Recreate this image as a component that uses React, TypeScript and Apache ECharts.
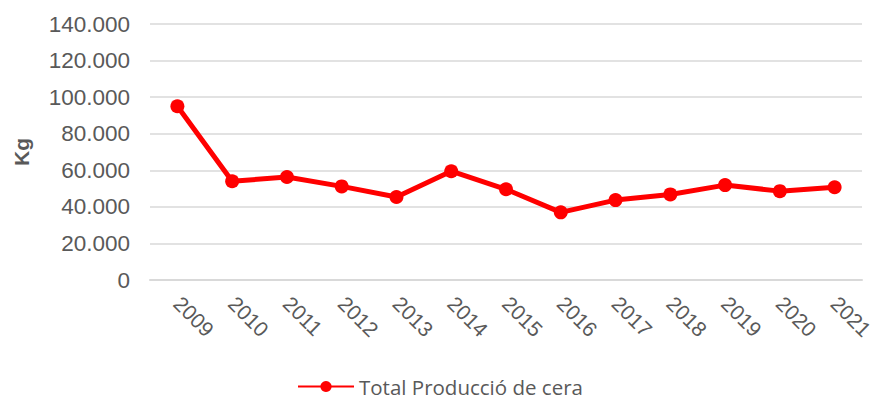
import React, { useEffect, useRef } from "react";
import * as echarts from "echarts";

const years = ["2009", "2010", "2011", "2012", "2013", "2014", "2015", "2016", "2017", "2018", "2019", "2020", "2021"];
const production = [95000, 54000, 56300, 51200, 45400, 59500, 49600, 37000, 43700, 46800, 51900, 48600, 50700];
const seriesName = "Total Producció de cera";

export default function App() {
  const ref = useRef<HTMLDivElement>(null);
  useEffect(() => {
    const chart = echarts.init(ref.current!, null, { renderer: "svg" });
    chart.setOption({
      animation: false,
      grid: { left: 142, right: 16, top: 16, bottom: 120, containLabel: false, outerBoundsMode: "none" },
      legend: {
        top: 363,
        left: 284,
        itemWidth: 56,
        itemHeight: 14,
        itemGap: 4,
        textStyle: { fontFamily: "Open Sans", fontSize: 20.5, color: "#595959" },
        data: [seriesName],
      },
      xAxis: {
        type: "category",
        data: years,
        axisLine: { show: true, lineStyle: { color: "#d9d9d9", width: 2 } },
        axisTick: { show: false },
        axisLabel: {
          rotate: -45,
          color: "#595959",
          fontFamily: "Liberation Sans",
          fontSize: 21,
          margin: 20,
        },
      },
      yAxis: {
        type: "value",
        min: 0,
        max: 140000,
        interval: 20000,
        name: "Kg",
        nameLocation: "middle",
        nameGap: 118,
        nameTextStyle: { fontFamily: "Liberation Sans", fontSize: 21, fontWeight: "bold", color: "#595959" },
        axisLine: { show: false },
        axisTick: { show: false },
        splitLine: { lineStyle: { color: "#d9d9d9", width: 1.5 } },
        axisLabel: {
          color: "#595959",
          fontFamily: "Liberation Sans",
          fontSize: 22.5,
          margin: 20,
          formatter: (v: number) => (v === 0 ? "0" : (v / 1000).toFixed(0) + ".000"),
        },
      },
      series: [
        {
          name: seriesName,
          type: "line",
          data: production,
          symbol: "circle",
          symbolSize: 14,
          lineStyle: { color: "#ff0000", width: 5 },
          itemStyle: { color: "#ff0000" },
        },
      ],
    });
    return () => chart.dispose();
  }, []);
  return <div ref={ref} style={{ width: 870, height: 392 }} />;
}
